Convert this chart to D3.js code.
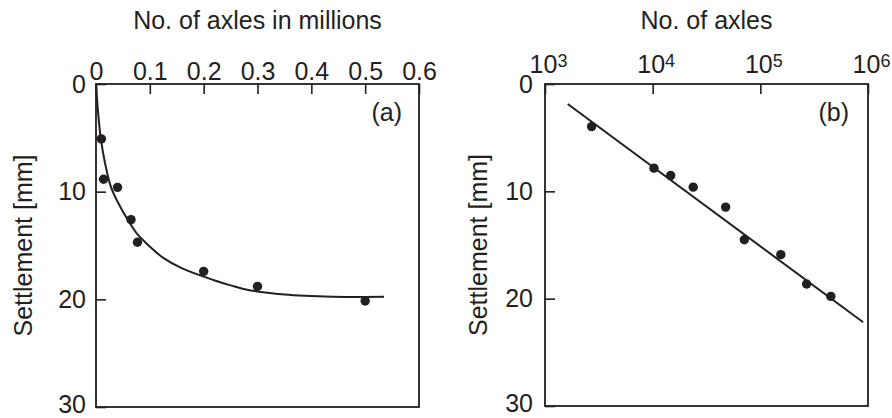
<!DOCTYPE html>
<html>
<head>
<meta charset="utf-8">
<script src="https://cdn.jsdelivr.net/npm/d3@7"></script>
<style>
  html, body { margin: 0; padding: 0; background: #fff; }
  svg { display: block; }
  text { font-family: "Liberation Sans", Arial, Helvetica, sans-serif; fill: #231f20; }
</style>
</head>
<body>
<svg id="chart" width="892" height="418"></svg>
<script>
// Panel (a): settlement against number of axles (millions), linear scale
const aAxleTicks = [0, 0.1, 0.2, 0.3, 0.4, 0.5, 0.6];
const settleTicks = [0, 10, 20, 30];
const aPointAxles = [0.01, 0.014, 0.04, 0.065, 0.077, 0.2, 0.3, 0.5];
const aPointSettle = [5.1, 8.85, 9.6, 12.6, 14.7, 17.4, 18.8, 20.15];
const aCurveAxles = [0, 0.004, 0.009, 0.017, 0.028, 0.045, 0.059, 0.076, 0.1, 0.125, 0.159, 0.218, 0.25, 0.285, 0.35, 0.44, 0.535];
const aCurveSettle = [0, 2.7, 5.1, 7.4, 9.6, 11.4, 12.6, 13.9, 15.1, 16.15, 17.1, 18.2, 18.7, 19.15, 19.55, 19.75, 19.77];

// Panel (b): settlement against number of axles, logarithmic scale
const bAxleTicks = [1e3, 1e4, 1e5, 1e6];
const bPointAxles = [2710, 10280, 14700, 23800, 47600, 71000, 155000, 269000, 452000];
const bPointSettle = [3.97, 7.84, 8.53, 9.61, 11.47, 14.51, 15.9, 18.63, 19.79];
const bLineAxles = [1625, 902000];
const bLineSettle = [1.86, 22.2];

const ink = "#231f20";
const fontSize = 25;
const svg = d3.select("#chart");

function framePanel(g, x0, x1, y0, y1) {
  g.append("rect")
    .attr("x", x0).attr("y", y0)
    .attr("width", x1 - x0).attr("height", y1 - y0)
    .attr("fill", "none").attr("stroke", ink).attr("stroke-width", 1.8);
}

function styleAxis(sel) {
  sel.select(".domain").remove();
  sel.selectAll(".tick line").attr("stroke", ink).attr("stroke-width", 1.6);
  sel.selectAll(".tick text").attr("font-size", fontSize).attr("fill", ink)
    .style("font-family", '"Liberation Sans", Arial, sans-serif');
}

// keep the lowest settlement label inside the bottom edge
function liftBottomLabel(sel) {
  sel.selectAll(".tick").filter(d => d === 30).select("text").attr("y", -3);
}

// ---------- Panel (a) ----------
const ax = d3.scaleLinear().domain([0, 0.6]).range([96, 419]);
const ay = d3.scaleLinear().domain([0, 30]).range([84, 407]);
const ga = svg.append("g");

ga.append("g").attr("transform", `translate(0,${ay(0)})`)
  .call(d3.axisTop(ax).tickValues(aAxleTicks).tickSize(-10).tickPadding(4)
    .tickFormat(d => d === 0 ? "0" : d3.format(".1f")(d)))
  .call(styleAxis);

ga.append("g").attr("transform", `translate(${ax(0)},0)`)
  .call(d3.axisLeft(ay).tickValues(settleTicks).tickSize(-10).tickPadding(10))
  .call(styleAxis)
  .call(liftBottomLabel);

framePanel(ga, ax(0), ax(0.6), ay(0), ay(30));

const aCurve = aCurveAxles.map((v, i) => [v, aCurveSettle[i]]);
ga.append("path")
  .datum(aCurve)
  .attr("fill", "none").attr("stroke", ink).attr("stroke-width", 2)
  .attr("d", d3.line().x(d => ax(d[0])).y(d => ay(d[1])).curve(d3.curveCatmullRom));

ga.selectAll("circle.pt")
  .data(aPointAxles.map((v, i) => [v, aPointSettle[i]]))
  .join("circle").attr("class", "pt")
  .attr("cx", d => ax(d[0])).attr("cy", d => ay(d[1]))
  .attr("r", 4.7).attr("fill", ink);

ga.append("text").attr("x", (ax(0) + ax(0.6)) / 2).attr("y", 29)
  .attr("text-anchor", "middle").attr("font-size", fontSize).text("No. of axles in millions");
ga.append("text").attr("transform", `translate(32,${(ay(0) + ay(30)) / 2}) rotate(-90)`)
  .attr("text-anchor", "middle").attr("font-size", fontSize).text("Settlement [mm]");
ga.append("text").attr("x", 402).attr("y", 121)
  .attr("text-anchor", "end").attr("font-size", fontSize).text("(a)");

// ---------- Panel (b) ----------
const bx = d3.scaleLog().domain([1e3, 1e6]).range([545, 868]);
const by = d3.scaleLinear().domain([0, 30]).range([84, 406]);
const gb = svg.append("g");

const bTop = gb.append("g").attr("transform", `translate(0,${by(0)})`)
  .call(d3.axisTop(bx).tickValues(bAxleTicks).tickSize(-10).tickPadding(11)
    .tickFormat(() => "10"))
  .call(styleAxis);

// exponent placed as a superscript right after the "10"
bTop.selectAll(".tick").each(function(d) {
  const t = d3.select(this).select("text").attr("x", -2);
  const w = t.node().getComputedTextLength();
  d3.select(this).append("text")
    .attr("x", -2 + w / 2).attr("y", -17.5)
    .attr("text-anchor", "start").attr("font-size", 18).attr("fill", ink)
    .style("font-family", '"Liberation Sans", Arial, sans-serif')
    .text(Math.round(Math.log10(d)));
});

gb.append("g").attr("transform", `translate(${bx(1e3)},0)`)
  .call(d3.axisLeft(by).tickValues(settleTicks).tickSize(-10).tickPadding(12))
  .call(styleAxis)
  .call(liftBottomLabel);

framePanel(gb, bx(1e3), bx(1e6), by(0), by(30));

gb.append("path")
  .datum(bLineAxles.map((v, i) => [v, bLineSettle[i]]))
  .attr("fill", "none").attr("stroke", ink).attr("stroke-width", 2)
  .attr("d", d3.line().x(d => bx(d[0])).y(d => by(d[1])));

gb.selectAll("circle.pt")
  .data(bPointAxles.map((v, i) => [v, bPointSettle[i]]))
  .join("circle").attr("class", "pt")
  .attr("cx", d => bx(d[0])).attr("cy", d => by(d[1]))
  .attr("r", 4.7).attr("fill", ink);

gb.append("text").attr("x", (bx(1e3) + bx(1e6)) / 2).attr("y", 29)
  .attr("text-anchor", "middle").attr("font-size", fontSize).text("No. of axles");
gb.append("text").attr("transform", `translate(486.5,${(by(0) + by(30)) / 2}) rotate(-90)`)
  .attr("text-anchor", "middle").attr("font-size", fontSize).text("Settlement [mm]");
gb.append("text").attr("x", 849).attr("y", 121)
  .attr("text-anchor", "end").attr("font-size", fontSize).text("(b)");
</script>
</body>
</html>
